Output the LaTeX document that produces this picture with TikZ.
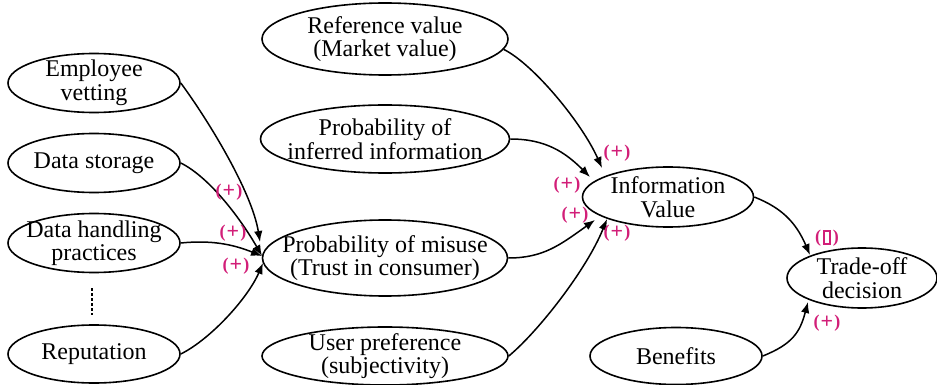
\documentclass[tikz,border=0pt]{standalone}
\usepackage{fontspec}
\setmainfont{Liberation Serif}
\usetikzlibrary{arrows.meta,shapes.geometric}
\definecolor{signred}{RGB}{210,30,120}
\begin{document}
\begin{tikzpicture}[x=1pt,y=-1pt,
  factor/.style={ellipse,draw,line width=1.6pt,inner xsep=-60pt,inner ysep=-20pt,align=center,
    font=\fontsize{24}{23.5}\selectfont},
  link/.style={line width=1.5pt,-{Latex[length=11pt,width=8.5pt]}},
  sign/.style={text=signred,inner sep=0pt,font=\fontsize{18}{18}\selectfont\bfseries}]
\useasboundingbox (0,0) rectangle (937,385);

% left column: drivers of misuse
\node[factor,minimum width=172pt,minimum height=59pt] (ev)  at (94,83)  {Employee\\vetting};
\node[factor,minimum width=172pt,minimum height=59pt] (ds)  at (94,163) {Data storage};
\node[factor,minimum width=172pt,minimum height=59pt] (dh)  at (94,243) {Data handling\\practices};
\node[factor,minimum width=172pt,minimum height=58pt] (rep) at (94,354) {Reputation};
\coordinate (vt) at (92,288);
\coordinate (vb) at (92,315);
\draw[line width=1.1pt,dash pattern=on 3pt off 2pt] (vt) -- (vb);

% middle column
\node[factor,minimum width=246pt,minimum height=72pt] (ref)  at (385,39)  {Reference value\\(Market value)};
\node[factor,minimum width=249pt,minimum height=68pt] (pinf) at (385,139) {Probability of\\inferred information};
\node[factor,minimum width=245pt,minimum height=76pt] (pmis) at (385,258) {Probability of misuse\\(Trust in consumer)};
\node[factor,minimum width=246pt,minimum height=58pt] (up)   at (385,356) {User preference\\(subjectivity)};

% right side
\node[factor,minimum width=171pt,minimum height=60pt] (iv)  at (668,197) {Information\\Value};
\node[factor,minimum width=150pt,minimum height=60pt] (tod) at (862,278) {Trade-off\\decision};
\node[factor,minimum width=172pt,minimum height=57pt] (ben) at (676,356) {Benefits};

% links into probability of misuse
\draw[link] (ev.east)  .. controls +(28,38)  and +(-8,-50)  .. ([shift={(-125,-16)}]pmis.center);
\draw[link] (ds.east)  .. controls +(30,15)  and +(-20,-35) .. ([shift={(-123,-2)}]pmis.center);
\draw[link] (dh.east)  .. controls +(30,-3)  and +(-30,-12) .. ([shift={(-123,-2)}]pmis.center);
\draw[link] (rep.east) .. controls +(30,-15) and +(-15,35)  .. ([shift={(-122,5)}]pmis.center);

% links into information value
\draw[link] (ref.-5)    .. controls +(30,15)  and +(-20,-45) .. ([shift={(-66,-29)}]iv.center);
\draw[link] (pinf.east) .. controls +(35,0)   and +(-25,-25) .. ([shift={(-78,-20)}]iv.center);
\draw[link] (pmis.east) .. controls +(35,0)   and +(-35,25)  .. ([shift={(-73,23)}]iv.center);
\draw[link] (up.east)   .. controls +(30,-25) and +(-20,50)  .. ([shift={(-61,22)}]iv.center);

% links into the decision
\draw[link] (iv.east)  .. controls +(25,10)  and +(-15,-35) .. ([shift={(-52,-23)}]tod.center);
\draw[link] (ben.east) .. controls +(30,-12) and +(-8,30)   .. ([shift={(-54,24)}]tod.center);

% signs
\newcommand{\plussign}{(\kern1pt\raisebox{-0.8pt}{\fontsize{22}{22}\selectfont+}\kern1pt)}
\node[sign] (s1) at (229,192) {\plussign};
\node[sign] (s2) at (233,233) {\plussign};
\node[sign] (s3) at (236,266) {\plussign};
\node[sign] (s4) at (617,153) {\plussign};
\node[sign] (s5) at (567,185) {\plussign};
\node[sign] (s6) at (575,215) {\plussign};
\node[sign] (s7) at (617,233) {\plussign};
\node[sign] (s8) at (827,238) {(\kern1.8pt\raisebox{-1pt}{\fboxsep=0pt\fboxrule=1.8pt\fbox{\rule{0pt}{11.5pt}\kern4.5pt}}\kern1.8pt)};
\node[sign] (s9) at (827,323) {\plussign};
\end{tikzpicture}
\end{document}
